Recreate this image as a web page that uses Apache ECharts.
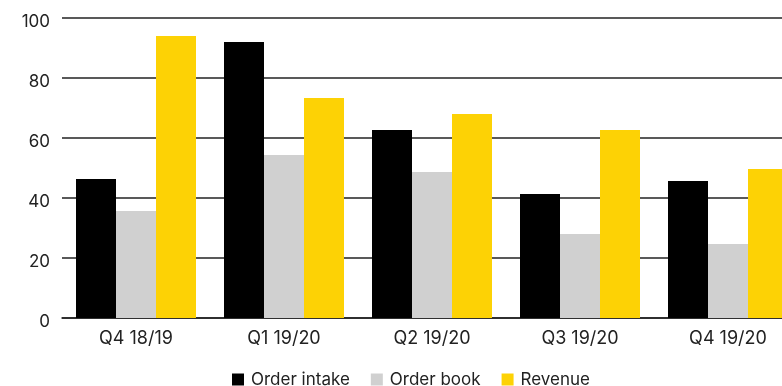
<!DOCTYPE html>
<html>
<head>
<meta charset="utf-8">
<script src="https://cdn.jsdelivr.net/npm/echarts@6/dist/echarts.min.js"></script>
<style>
  html, body { margin: 0; padding: 0; background: #fff; }
  #chart { width: 782px; height: 386px; }
</style>
</head>
<body>
<div id="chart"></div>
<script>
const categories = ['Q4 18/19', 'Q1 19/20', 'Q2 19/20', 'Q3 19/20', 'Q4 19/20'];
const orderIntake = [46.3, 92, 62.7, 41.3, 45.7];
const orderBook = [35.7, 54.3, 48.7, 28, 24.7];
const revenue = [94, 73.3, 68, 62.7, 49.7];

const font = 'Inter, "Noto Sans", sans-serif';
const myChart = echarts.init(document.getElementById('chart'));

// grid runs past the right edge so the last bar is cut off like the original
myChart.setOption({
  animation: false,
  grid: { left: 62, top: 18, width: 740, height: 300, outerBoundsMode: 'none', containLabel: false },
  legend: {
    top: 366,
    left: 227,
    padding: [5, 5],
    itemWidth: 12,
    itemHeight: 12,
    itemGap: 21,
    icon: 'rect',
    textStyle: { fontFamily: font, fontSize: 17, color: '#222', padding: [0, 0, 0, 2] },
    data: ['Order intake', 'Order book', 'Revenue']
  },
  xAxis: {
    type: 'category',
    data: categories,
    axisLine: { lineStyle: { color: '#222', width: 1.5 } },
    axisTick: { show: false },
    axisLabel: { fontFamily: font, fontSize: 18, color: '#222', margin: 12 }
  },
  yAxis: {
    type: 'value',
    min: 0,
    max: 100,
    interval: 20,
    axisLine: { show: false },
    axisTick: { show: false },
    splitLine: { lineStyle: { color: '#222', width: 1.5 } },
    axisLabel: {
      margin: 12,
      formatter: '{v|{value}}',
      rich: { v: { fontFamily: font, fontSize: 17, color: '#222', padding: [8, 0, 0, 0] } }
    }
  },
  series: [
    { name: 'Order intake', type: 'bar', data: orderIntake, barWidth: 40, barGap: '0%', itemStyle: { color: '#000000' } },
    { name: 'Order book', type: 'bar', data: orderBook, barWidth: 40, barGap: '0%', itemStyle: { color: '#d0d0d0' } },
    { name: 'Revenue', type: 'bar', data: revenue, barWidth: 40, barGap: '0%', itemStyle: { color: '#fdd205' } }
  ]
});
</script>
</body>
</html>
